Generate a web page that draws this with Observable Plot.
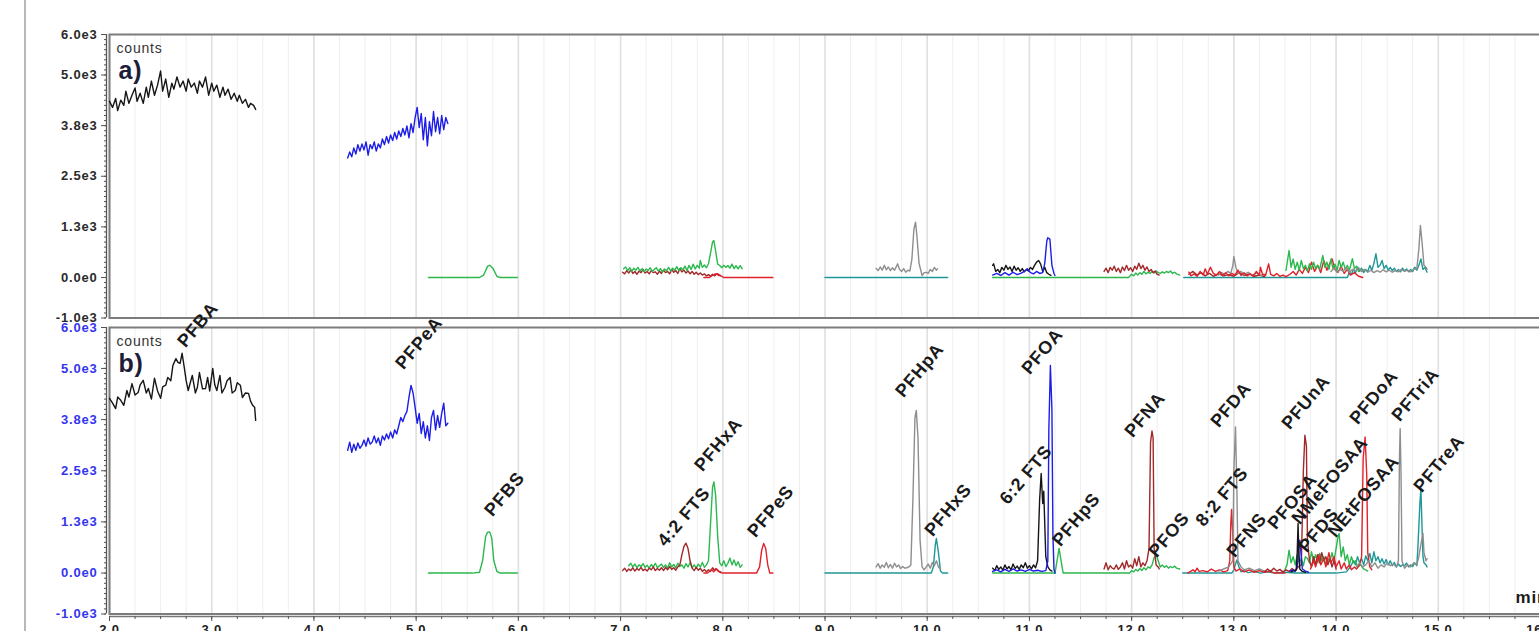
<!DOCTYPE html>
<html><head><meta charset="utf-8">
<script src="https://cdn.jsdelivr.net/npm/d3@7"></script>
<script src="https://cdn.jsdelivr.net/npm/@observablehq/plot@0.6"></script>
<style>
html,body{margin:0;padding:0;background:#fff;overflow:hidden;width:1539px;height:631px}
#wrap{position:relative;width:1539px;height:631px;overflow:hidden}
#vline{position:absolute;left:24px;top:0;width:2px;height:631px;background:#b8b8b8}
#pa{position:absolute;left:0;top:0;width:1560px}
#pb{position:absolute;left:0;top:318px;width:1560px}
#pa svg,#pb svg{overflow:visible;max-width:none !important}
svg text{letter-spacing:0.8px}
</style></head><body>
<div id="wrap"><div id="vline"></div><div id="pa"></div><div id="pb"></div></div>
<script>
// ---------- axes ----------
const xTicks = [2,3,4,5,6,7,8,9,10,11,12,13,14,15,16];
const xTickLabels = ["2.0","3.0","4.0","5.0","6.0","7.0","8.0","9.0","10.0","11.0","12.0","13.0","14.0","15.0","16.0"];
const yTicks = [-1000,0,1250,2500,3750,5000,6000];
const yTickLabels = ["-1.0e3","0.0e0","1.3e3","2.5e3","3.8e3","5.0e3","6.0e3"];

// ---------- colours ----------
const C = {black:"#161616", blue:"#1d1de8", green:"#2cb84e", maroon:"#a2282a", red:"#e0222a", teal:"#1f9797", gray:"#8e8e8e"};

// ---------- panel a traces [time (min), counts] ----------
const a_PFBA = [[2.00,4350],[2.03,4200],[2.06,4420],[2.08,4120],[2.11,4380],[2.14,4250],[2.16,4600],[2.19,4300],[2.22,4500],[2.25,4680],[2.27,4350],[2.30,4550],[2.33,4300],[2.36,4700],[2.38,4450],[2.41,4850],[2.44,4500],[2.47,4750],[2.50,5100],[2.52,4600],[2.55,4900],[2.58,4450],[2.61,4800],[2.63,4650],[2.66,4950],[2.69,4700],[2.72,4850],[2.75,4600],[2.77,4900],[2.80,4700],[2.83,4800],[2.86,4550],[2.88,4850],[2.91,4700],[2.94,4950],[2.97,4500],[3.00,4800],[3.02,4600],[3.05,4750],[3.08,4450],[3.11,4700],[3.13,4500],[3.16,4650],[3.19,4400],[3.22,4550],[3.25,4350],[3.27,4500],[3.30,4300],[3.33,4400],[3.36,4200],[3.38,4300],[3.41,4250],[3.43,4150]];
const a_PFPeA = [[4.33,2950],[4.35,3100],[4.37,2980],[4.39,3200],[4.41,3050],[4.43,3280],[4.45,3120],[4.47,3300],[4.49,3150],[4.51,3350],[4.53,3020],[4.55,3280],[4.57,3180],[4.59,3350],[4.61,3120],[4.63,3300],[4.65,3200],[4.67,3420],[4.69,3280],[4.71,3480],[4.73,3320],[4.75,3520],[4.77,3380],[4.79,3580],[4.81,3420],[4.83,3620],[4.85,3480],[4.87,3680],[4.89,3520],[4.91,3740],[4.93,3450],[4.95,3800],[4.97,3580],[4.99,3950],[5.01,4200],[5.03,3700],[5.05,4050],[5.07,3400],[5.09,3950],[5.11,3250],[5.13,3850],[5.15,3500],[5.17,4100],[5.19,3600],[5.21,3950],[5.23,3550],[5.25,4000],[5.27,3650],[5.29,3950],[5.31,3800]];
const a_PFBS = [[5.12,0],[5.62,0],[5.66,60],[5.70,280],[5.72,300],[5.75,230],[5.79,30],[5.82,0],[5.99,0]];
const a_PFHxA = [[7.03,215],[7.05,260],[7.07,170],[7.09,240],[7.11,150],[7.13,230],[7.15,180],[7.17,250],[7.19,160],[7.21,220],[7.23,140],[7.25,210],[7.27,170],[7.29,240],[7.31,150],[7.33,200],[7.35,240],[7.37,160],[7.39,220],[7.41,130],[7.43,210],[7.45,170],[7.47,250],[7.49,160],[7.51,230],[7.53,180],[7.55,270],[7.57,170],[7.59,240],[7.61,190],[7.63,280],[7.65,170],[7.67,300],[7.69,200],[7.71,330],[7.73,210],[7.75,300],[7.77,230],[7.78,420],[7.80,250],[7.82,310],[7.84,240],[7.86,340],[7.88,600],[7.90,880],[7.913,913],[7.93,650],[7.95,330],[7.97,296],[7.99,240],[8.01,300],[8.03,250],[8.05,296],[8.07,230],[8.09,330],[8.11,220],[8.13,290],[8.15,215],[8.17,296],[8.19,215]];
const a_42FTS = [[7.02,131],[7.04,90],[7.06,170],[7.08,110],[7.10,190],[7.12,100],[7.14,150],[7.16,80],[7.18,160],[7.20,120],[7.22,200],[7.24,110],[7.26,150],[7.28,90],[7.30,170],[7.32,120],[7.34,140],[7.36,80],[7.38,160],[7.40,100],[7.42,180],[7.44,120],[7.46,150],[7.48,90],[7.50,200],[7.52,130],[7.54,170],[7.56,100],[7.58,220],[7.60,140],[7.62,180],[7.64,110],[7.66,160],[7.68,90],[7.70,150],[7.72,80],[7.74,130],[7.76,70],[7.78,110],[7.80,60],[7.82,90],[7.84,40],[7.86,70],[7.88,30],[7.90,80],[7.92,40],[7.94,90],[7.96,50],[7.98,50]];
const a_PFPeS = [[7.815,0],[7.87,0],[7.89,40],[7.92,80],[7.95,91],[7.98,40],[8.01,0],[8.49,0]];
const a_PFHxS = [[9.00,0],[10.20,0]];
const a_PFHpA = [[9.50,222],[9.52,170],[9.54,260],[9.56,180],[9.58,300],[9.60,190],[9.62,260],[9.64,170],[9.66,240],[9.68,180],[9.70,280],[9.71,338],[9.73,200],[9.75,150],[9.77,220],[9.79,130],[9.81,180],[9.83,160],[9.85,450],[9.87,1200],[9.886,1365],[9.90,1000],[9.92,350],[9.95,50],[9.97,120],[9.99,124],[10.01,100],[10.03,200],[10.05,150],[10.07,250],[10.09,180],[10.10,215]];
const a_62FTS = [[10.64,300],[10.65,338],[10.67,150],[10.69,200],[10.71,120],[10.73,250],[10.75,180],[10.77,300],[10.79,200],[10.81,260],[10.83,150],[10.85,280],[10.87,180],[10.89,240],[10.91,150],[10.93,220],[10.95,140],[10.97,200],[10.99,160],[11.01,250],[11.03,200],[11.05,300],[11.07,380],[11.09,420],[11.11,330],[11.13,150],[11.15,250],[11.17,120],[11.19,80],[11.21,50]];
const a_PFOA = [[10.64,60],[10.68,100],[10.72,50],[10.76,120],[10.80,60],[10.84,130],[10.88,70],[10.92,110],[10.95,150],[10.98,215],[11.01,120],[11.04,90],[11.07,150],[11.10,100],[11.13,120],[11.15,350],[11.17,900],[11.18,980],[11.20,950],[11.22,300],[11.24,100],[11.25,50]];
const a_PFHpS = [[10.64,0],[11.97,0],[12.00,80],[12.02,40],[12.04,110],[12.06,60],[12.08,120],[12.10,80],[12.12,150],[12.14,90],[12.16,130],[12.18,100],[12.20,150],[12.22,110],[12.24,160],[12.26,120],[12.28,100],[12.30,140],[12.32,110],[12.34,150],[12.36,120],[12.38,160],[12.40,100],[12.42,130],[12.44,90],[12.47,60]];
const a_PFNA = [[11.73,150],[11.75,230],[11.77,120],[11.79,250],[11.81,180],[11.83,280],[11.85,150],[11.87,230],[11.89,120],[11.91,260],[11.93,170],[11.95,300],[11.97,180],[11.99,240],[12.01,150],[12.03,280],[12.05,200],[12.07,353],[12.09,220],[12.11,300],[12.13,180],[12.15,260],[12.17,150],[12.19,200],[12.21,120],[12.23,160],[12.25,80],[12.27,60]];
const a_Teal = [[12.51,0],[14.11,0],[14.13,131],[14.15,80],[14.17,200],[14.19,120],[14.21,255],[14.23,150],[14.25,230],[14.27,120],[14.29,200],[14.31,150],[14.33,300],[14.35,180],[14.37,350],[14.39,585],[14.41,250],[14.43,300],[14.45,420],[14.47,220],[14.49,300],[14.51,180],[14.53,250],[14.55,173],[14.57,230],[14.59,150],[14.61,200],[14.63,140],[14.65,230],[14.67,160],[14.69,210],[14.71,140],[14.73,200],[14.75,150],[14.77,255],[14.79,180],[14.81,300],[14.83,460],[14.85,200],[14.87,250],[14.89,131]];
const a_PFDA = [[12.85,60],[12.88,120],[12.91,80],[12.94,150],[12.97,100],[12.99,300],[13.00,518],[13.02,250],[13.04,100],[13.07,150],[13.10,70],[13.14,130],[13.18,60],[13.22,110],[13.26,50],[13.30,80]];
const a_Maroon = [[12.56,80],[12.60,150],[12.64,60],[12.68,120],[12.72,40],[12.76,100],[12.80,30],[12.85,90],[12.90,40],[12.95,70],[13.00,30],[13.05,120],[13.10,50],[13.15,90],[13.20,30],[13.25,60],[13.30,20]];
const a_Red = [[12.56,131],[12.58,40],[12.61,90],[12.64,30],[12.67,150],[12.70,60],[12.72,215],[12.74,80],[12.77,255],[12.80,100],[12.83,60],[12.86,150],[12.89,50],[12.92,120],[12.95,40],[12.98,100],[13.01,60],[13.04,180],[13.07,50],[13.10,120],[13.13,40],[13.16,90],[13.19,30],[13.22,150],[13.25,60],[13.26,255],[13.28,80],[13.31,50],[13.34,338],[13.36,80],[13.39,40],[13.42,100],[13.45,30],[13.48,60],[13.51,20],[13.55,80],[13.58,150],[13.61,60],[13.64,200],[13.67,100],[13.70,250],[13.73,120],[13.76,378],[13.79,150],[13.82,300],[13.85,120],[13.88,420],[13.91,180],[13.93,300],[13.96,462],[13.99,200],[14.02,130],[14.05,280],[14.08,100],[14.11,200],[14.14,60],[14.18,120],[14.22,30],[14.26,0]];
const a_Green = [[13.51,173],[13.54,666],[13.56,250],[13.58,455],[13.60,200],[13.62,380],[13.64,180],[13.66,420],[13.68,220],[13.70,300],[13.72,160],[13.74,338],[13.76,200],[13.78,380],[13.80,230],[13.82,300],[13.84,200],[13.87,543],[13.89,250],[13.91,380],[13.93,200],[13.95,455],[13.97,220],[13.99,330],[14.01,180],[14.03,420],[14.05,250],[14.07,380],[14.09,200],[14.11,300],[14.13,180],[14.16,462],[14.18,220],[14.20,280],[14.22,150],[14.24,200],[14.27,173]];
const a_Gray = [[13.95,150],[13.98,230],[14.01,120],[14.04,200],[14.07,150],[14.10,250],[14.13,130],[14.16,200],[14.19,160],[14.22,240],[14.25,150],[14.28,200],[14.31,130],[14.34,180],[14.37,120],[14.40,170],[14.43,130],[14.46,190],[14.49,140],[14.52,180],[14.55,130],[14.58,170],[14.61,140],[14.64,200],[14.67,150],[14.70,180],[14.73,140],[14.76,200],[14.79,220],[14.81,700],[14.825,1284],[14.84,900],[14.86,300],[14.88,250],[14.89,200]];

// ---------- panel b traces [time (min), counts] ----------
const b_PFBA = [[2.00,4270],[2.03,4150],[2.06,4020],[2.08,4300],[2.11,4220],[2.14,4100],[2.17,4460],[2.19,4300],[2.22,4630],[2.25,4350],[2.28,4410],[2.30,4600],[2.33,4710],[2.36,4400],[2.38,4510],[2.41,4250],[2.44,4760],[2.47,4450],[2.50,4270],[2.52,4550],[2.55,4590],[2.57,4780],[2.60,4700],[2.62,5070],[2.65,5240],[2.67,5150],[2.69,5120],[2.71,5370],[2.73,5050],[2.75,4700],[2.77,4460],[2.79,4650],[2.81,4830],[2.84,4400],[2.86,4540],[2.88,4900],[2.91,4500],[2.94,4510],[2.96,4780],[2.98,4450],[3.01,5000],[3.03,4600],[3.05,4460],[3.08,4830],[3.10,4400],[3.13,4540],[3.15,4700],[3.18,4780],[3.20,4400],[3.23,4460],[3.25,4650],[3.28,4590],[3.30,4290],[3.33,4400],[3.36,4390],[3.38,4200],[3.40,4100],[3.42,4050],[3.43,3730]];
const b_PFPeA = [[4.33,3000],[4.35,3200],[4.37,2950],[4.39,3150],[4.41,3000],[4.43,3180],[4.45,3050],[4.47,3120],[4.49,3250],[4.51,3100],[4.53,3300],[4.55,3150],[4.57,3200],[4.59,3350],[4.61,3180],[4.63,3300],[4.65,3120],[4.67,3350],[4.69,3250],[4.71,3400],[4.73,3280],[4.75,3450],[4.77,3300],[4.79,3500],[4.81,3400],[4.83,3600],[4.85,3800],[4.87,3700],[4.89,3850],[4.91,3950],[4.93,4300],[4.95,4585],[4.97,4400],[4.99,4050],[5.01,3660],[5.03,3900],[5.05,3410],[5.07,3700],[5.09,3300],[5.11,3600],[5.13,3240],[5.15,3800],[5.17,3975],[5.19,3500],[5.21,3850],[5.23,3560],[5.25,3900],[5.27,4150],[5.29,3600],[5.31,3660]];
const b_PFBS = [[5.12,0],[5.55,0],[5.62,20],[5.65,300],[5.68,900],[5.70,1000],[5.72,1007],[5.74,850],[5.76,300],[5.79,40],[5.82,0],[5.99,0]];
const b_PFHxA = [[7.08,180],[7.10,240],[7.12,150],[7.14,220],[7.16,130],[7.18,200],[7.20,160],[7.22,230],[7.24,140],[7.26,190],[7.28,120],[7.30,210],[7.32,150],[7.34,240],[7.36,130],[7.38,180],[7.40,220],[7.42,140],[7.44,200],[7.46,120],[7.48,250],[7.50,150],[7.52,210],[7.54,130],[7.56,240],[7.58,160],[7.60,200],[7.62,120],[7.64,230],[7.66,150],[7.68,260],[7.70,130],[7.72,200],[7.74,120],[7.76,220],[7.78,150],[7.80,260],[7.82,140],[7.84,200],[7.86,300],[7.88,1200],[7.90,2100],[7.913,2227],[7.93,1900],[7.95,900],[7.97,250],[7.99,180],[8.01,300],[8.03,160],[8.05,240],[8.07,366],[8.09,200],[8.11,320],[8.13,180],[8.15,280],[8.17,140],[8.19,200]];
const b_42FTS = [[7.02,60],[7.04,120],[7.06,40],[7.08,100],[7.10,60],[7.12,130],[7.14,50],[7.16,110],[7.18,70],[7.20,140],[7.22,60],[7.24,100],[7.26,50],[7.28,120],[7.30,80],[7.32,150],[7.34,60],[7.36,110],[7.38,70],[7.40,130],[7.42,60],[7.44,140],[7.46,80],[7.48,160],[7.50,90],[7.52,130],[7.54,70],[7.56,150],[7.58,200],[7.60,450],[7.62,650],[7.64,730],[7.66,600],[7.68,300],[7.70,120],[7.72,60],[7.74,140],[7.76,70],[7.78,120],[7.80,40],[7.82,90],[7.84,30],[7.86,80],[7.88,40],[7.90,130],[7.92,60],[7.94,100],[7.96,50],[7.98,30]];
const b_PFPeS = [[7.815,0],[7.85,0],[7.87,40],[7.89,90],[7.91,30],[7.93,110],[7.95,60],[7.97,20],[8.00,0],[8.33,0],[8.36,150],[8.38,550],[8.40,725],[8.42,600],[8.44,200],[8.46,0],[8.49,0]];
const b_PFHxS = [[9.00,0],[10.04,0],[10.06,150],[10.08,700],[10.09,845],[10.11,500],[10.13,50],[10.15,0],[10.20,0]];
const b_PFHpA = [[9.50,150],[9.52,230],[9.54,120],[9.56,200],[9.58,140],[9.60,260],[9.62,130],[9.64,210],[9.66,120],[9.68,240],[9.70,150],[9.72,200],[9.74,110],[9.76,160],[9.78,120],[9.80,130],[9.82,150],[9.84,200],[9.86,1800],[9.88,3800],[9.893,3975],[9.91,3300],[9.93,800],[9.95,150],[9.97,80],[9.99,150],[10.01,220],[10.03,120],[10.05,260],[10.07,180],[10.09,300],[10.11,150],[10.13,100]];
const b_62FTS = [[10.64,120],[10.66,60],[10.68,180],[10.70,90],[10.72,150],[10.74,70],[10.76,200],[10.78,100],[10.80,160],[10.82,80],[10.84,220],[10.86,110],[10.88,170],[10.90,90],[10.92,200],[10.94,130],[10.96,250],[10.98,120],[11.00,180],[11.02,100],[11.04,200],[11.06,130],[11.08,300],[11.10,1800],[11.115,2432],[11.13,1700],[11.14,2000],[11.16,400],[11.18,150],[11.20,80],[11.22,50]];
const b_PFOA = [[10.64,40],[10.68,80],[10.72,30],[10.76,90],[10.80,40],[10.84,100],[10.88,50],[10.92,80],[10.96,40],[11.00,90],[11.04,50],[11.08,70],[11.12,40],[11.16,60],[11.18,300],[11.19,3500],[11.205,5073],[11.22,4000],[11.23,900],[11.24,100],[11.25,0]];
const b_PFHpS = [[10.64,0],[11.25,0],[11.27,300],[11.29,602],[11.31,300],[11.33,0],[11.98,0],[12.00,60],[12.02,30],[12.04,90],[12.06,50],[12.08,110],[12.10,60],[12.12,130],[12.14,80],[12.16,150],[12.18,120],[12.20,200],[12.22,380],[12.24,439],[12.26,300],[12.28,150],[12.30,200],[12.32,140],[12.34,180],[12.36,120],[12.38,160],[12.40,130],[12.42,170],[12.44,120],[12.47,100]];
const b_PFNA = [[11.73,100],[11.75,250],[11.77,80],[11.79,180],[11.81,120],[11.83,100],[11.85,200],[11.87,90],[11.89,150],[11.91,250],[11.93,100],[11.95,300],[11.97,150],[11.99,200],[12.01,120],[12.03,350],[12.05,180],[12.07,400],[12.09,150],[12.11,250],[12.13,180],[12.15,300],[12.17,600],[12.185,3200],[12.199,3471],[12.21,3300],[12.22,600],[12.24,200],[12.26,150],[12.27,100]];
const b_Teal = [[12.50,0],[12.98,0],[13.00,80],[13.02,250],[13.03,317],[13.05,150],[13.07,30],[13.10,60],[13.14,10],[13.20,40],[13.26,0],[13.32,30],[13.40,0],[13.50,20],[13.60,0],[14.00,0],[14.10,30],[14.14,150],[14.17,300],[14.19,200],[14.21,400],[14.23,250],[14.25,350],[14.27,200],[14.29,420],[14.31,300],[14.33,480],[14.35,250],[14.37,520],[14.39,300],[14.41,400],[14.43,250],[14.45,350],[14.47,220],[14.49,330],[14.51,200],[14.53,300],[14.55,180],[14.57,260],[14.59,150],[14.61,220],[14.63,160],[14.65,200],[14.67,180],[14.69,244],[14.71,150],[14.73,200],[14.75,160],[14.77,250],[14.79,180],[14.80,600],[14.82,1700],[14.83,2065],[14.84,1200],[14.85,400],[14.86,250],[14.88,200],[14.89,150]];
const b_PFDA = [[12.85,50],[12.90,100],[12.95,150],[12.99,300],[13.00,2500],[13.016,3569],[13.03,2000],[13.04,300],[13.07,150],[13.10,80],[13.15,120],[13.20,60],[13.25,100],[13.30,50]];
const b_82FTS = [[12.55,0],[12.60,80],[12.62,30],[12.64,120],[12.66,40],[12.70,60],[12.74,30],[12.78,100],[12.82,40],[12.86,80],[12.90,30],[12.94,60],[12.96,300],[12.97,1200],[12.978,1553],[12.99,900],[13.00,150],[13.02,50],[13.06,100],[13.10,30],[13.15,80],[13.20,20],[13.25,60],[13.30,20],[13.35,50],[13.40,0],[13.50,0]];
const b_PFUnA = [[13.30,30],[13.33,100],[13.36,40],[13.39,120],[13.42,50],[13.45,90],[13.48,30],[13.51,80],[13.54,40],[13.57,110],[13.60,50],[13.63,150],[13.66,200],[13.68,2500],[13.695,3366],[13.71,3100],[13.72,800],[13.74,300],[13.76,150],[13.78,400],[13.80,200],[13.82,450],[13.84,250],[13.86,500],[13.88,300],[13.90,400],[13.92,200],[13.94,350],[13.96,150],[13.98,300],[14.00,100]];
const b_PFDoA = [[13.75,100],[13.78,300],[13.80,150],[13.83,450],[13.85,200],[13.88,350],[13.90,150],[13.93,500],[13.95,250],[13.98,400],[14.00,150],[14.03,300],[14.05,100],[14.08,250],[14.10,100],[14.13,200],[14.15,80],[14.18,150],[14.20,100],[14.23,200],[14.25,400],[14.265,2800],[14.284,3325],[14.30,2400],[14.31,500],[14.33,150],[14.35,80]];
const b_PFOSA = [[13.55,50],[13.58,80],[13.60,40],[13.62,150],[13.635,600],[13.645,805],[13.66,400],[13.67,100],[13.70,50],[13.73,20]];
const b_NMeFOSAA = [[13.56,30],[13.59,60],[13.61,80],[13.62,500],[13.628,1211],[13.635,600],[13.645,100],[13.67,40],[13.70,20]];
const b_NEtFOSAA = [[13.50,80],[13.52,200],[13.54,560],[13.56,250],[13.58,400],[13.60,200],[13.62,450],[13.64,250],[13.66,350],[13.68,180],[13.70,400],[13.72,358],[13.74,250],[13.76,520],[13.78,300],[13.80,450],[13.82,250],[13.84,480],[13.86,300],[13.88,400],[13.90,200],[13.92,350],[13.94,280],[13.96,500],[13.98,300],[14.00,600],[14.02,900],[14.03,968],[14.05,400],[14.07,640],[14.09,300],[14.11,450],[14.13,200],[14.15,400],[14.17,250],[14.19,300],[14.21,150],[14.24,200],[14.27,100],[14.31,50]];
const b_PFTriA = [[14.20,150],[14.23,250],[14.26,150],[14.29,200],[14.32,300],[14.35,150],[14.38,250],[14.41,120],[14.44,200],[14.47,150],[14.50,250],[14.53,180],[14.56,220],[14.59,150],[14.61,300],[14.62,2800],[14.627,3529],[14.635,2500],[14.645,300],[14.67,120],[14.70,200],[14.73,150],[14.76,250],[14.79,200],[14.81,400],[14.83,700],[14.85,970],[14.86,500],[14.88,300],[14.89,350]];

// ---------- peak labels (panel b): name, time, counts at label start ----------
const labNames = ["PFBA","PFPeA","PFBS","4:2 FTS","PFHxA","PFPeS","PFHpA","PFHxS","6:2 FTS","PFOA","PFHpS","PFNA","PFOS","8:2 FTS","PFDA","PFNS","PFOSA","NMeFOSAA","PFDS","NEtFOSAA","PFUnA","PFDoA","PFTriA","PFTreA"];
const labTime  = [2.744,4.877,5.748,7.440,7.802,8.321,9.769,10.053,10.787,11.002,11.305,12.010,12.245,12.705,12.851,13.008,13.409,13.644,13.712,13.996,13.546,14.211,14.622,14.838];
const labCount = [5487,4949,1358,625,2458,845,4265,870,1651,4827,625,3288,357,1114,3533,357,1041,1163,479,845,3484,3606,3679,1945];

// ---------- build ----------
const tracesA = [
  [a_PFBA,"black"],[a_PFPeA,"blue"],[a_PFBS,"green"],[a_42FTS,"maroon"],[a_PFPeS,"red"],[a_PFHxA,"green"],
  [a_PFHxS,"teal"],[a_PFHpA,"gray"],[a_PFHpS,"green"],[a_62FTS,"black"],[a_PFOA,"blue"],[a_PFNA,"maroon"],
  [a_Teal,"teal"],[a_Maroon,"maroon"],[a_PFDA,"gray"],[a_Red,"red"],[a_Green,"green"],[a_Gray,"gray"]
];
const tracesB = [
  [b_PFBA,"black"],[b_PFPeA,"blue"],[b_PFBS,"green"],[b_PFHxA,"green"],[b_42FTS,"maroon"],[b_PFPeS,"red"],
  [b_PFHxS,"teal"],[b_PFHpA,"gray"],[b_PFHpS,"green"],[b_62FTS,"black"],[b_PFOA,"blue"],[b_PFNA,"maroon"],
  [b_Teal,"teal"],[b_82FTS,"red"],[b_PFDA,"gray"],[b_NEtFOSAA,"green"],[b_PFUnA,"maroon"],[b_PFDoA,"red"],
  [b_PFOSA,"blue"],[b_NMeFOSAA,"black"],[b_PFTriA,"gray"]
];
const labels = labNames.map((n,i) => ({name:n, t:labTime[i], v:labCount[i]}));

const W = 1560, XR = 1540;
const xMinor = d3.range(2, 16.001, 0.25);
const yMinor = d3.range(-1000, 6001, 125);
const font = "'Liberation Sans', Arial, Helvetica, sans-serif";

function lines(traces) {
  return traces.map(([pts, col]) => Plot.line(pts, {x: d => d[0], y: d => d[1], stroke: C[col], strokeWidth: 1.4, strokeLinejoin: "round"}));
}

function base(axisColor) {
  return [
    Plot.ruleX(xMinor, {stroke: "#efefef", strokeWidth: 1}),
    Plot.ruleX(xTicks, {stroke: "#e0e0e0", strokeWidth: 1.6}),
    Plot.frame({stroke: "#7c7c7c", strokeWidth: 2}),
    Plot.ruleX([2], {dx: -3, stroke: "#555", strokeWidth: 1.3}),
    Plot.axisY({ticks: yMinor, tickSize: 2, text: null, dx: -3, stroke: "#555", label: null}),
    Plot.axisY({ticks: yTicks, tickFormat: d => yTickLabels[yTicks.indexOf(d)], tickSize: 5, tickPadding: 4, dx: -3,
      fontSize: 13, fontWeight: "bold", fill: axisColor, stroke: "#555", label: null})
  ];
}

const st = {fontFamily: font, background: "transparent", overflow: "visible", maxWidth: "none"};

const pa = Plot.plot({
  width: W, height: 320, marginLeft: 109, marginRight: W - XR, marginTop: 34, marginBottom: 2.5,
  x: {domain: [2, 16], axis: null}, y: {domain: [-1000, 6000], label: null},
  style: st,
  marks: [
    ...base("#2a2a2a"),
    ...lines(tracesA),
    Plot.text(["counts"], {frameAnchor: "top-left", dx: 7, dy: 18, lineAnchor: "bottom", textAnchor: "start", fontSize: 14, fill: "#333"}),
    Plot.text(["a)"], {frameAnchor: "top-left", dx: 9, dy: 44, lineAnchor: "bottom", textAnchor: "start", fontSize: 25, fontWeight: "bold", fill: "#1d1d3a"})
  ]
});
document.getElementById("pa").appendChild(pa);

const pb = Plot.plot({
  width: W, height: 330, marginLeft: 109, marginRight: W - XR, marginTop: 9, marginBottom: 34.5,
  x: {domain: [2, 16], label: null}, y: {domain: [-1000, 6000], label: null},
  style: st,
  marks: [
    ...base("#3535ee"),
    Plot.ruleY([-1000], {dy: 2.5, stroke: "#777", strokeWidth: 1.3}),
    Plot.axisX({ticks: xMinor, tickSize: 3, text: null, dy: 2.5, stroke: "#555", label: null}),
    Plot.axisX({ticks: xTicks, tickFormat: d => xTickLabels[xTicks.indexOf(d)], tickSize: 5, tickPadding: 3, dy: 2.5,
      fontSize: 13, fontWeight: "bold", fill: "#222", stroke: "#555", label: null}),
    ...lines(tracesB),
    Plot.text(labels, {x: "t", y: "v", text: "name", rotate: -50, textAnchor: "start", lineAnchor: "bottom",
      fontSize: 18, fontWeight: "bold", fill: "#1a1a1a"}),
    Plot.text(["counts"], {frameAnchor: "top-left", dx: 7, dy: 18, lineAnchor: "bottom", textAnchor: "start", fontSize: 14, fill: "#333"}),
    Plot.text(["b)"], {frameAnchor: "top-left", dx: 9, dy: 44, lineAnchor: "bottom", textAnchor: "start", fontSize: 25, fontWeight: "bold", fill: "#1d1d3a"}),
    Plot.text(["min"], {frameAnchor: "bottom-right", dx: -25, dy: -11, lineAnchor: "bottom", textAnchor: "start", fontSize: 17, fontWeight: "bold", fill: "#1a1a1a"})
  ]
});
document.getElementById("pb").appendChild(pb);
</script>
</body></html>
